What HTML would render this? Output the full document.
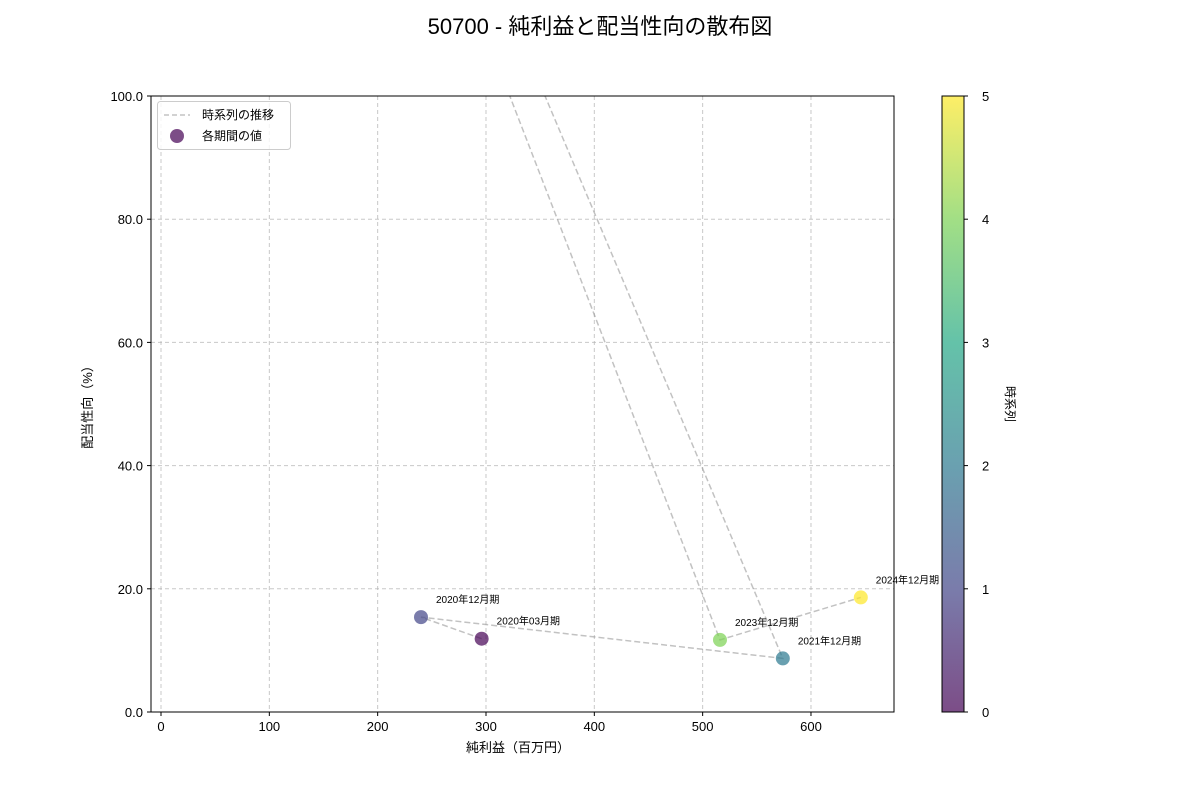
<!DOCTYPE html>
<html><head><meta charset="utf-8"><style>
body{margin:0;background:#fff}
svg{font-family:"Liberation Sans","Noto Sans CJK JP",sans-serif}
</style></head><body>
<svg width="1200" height="800" viewBox="0 0 1200 800" xmlns="http://www.w3.org/2000/svg">
<defs><clipPath id="pc"><rect x="151" y="96" width="743" height="616"/></clipPath>
<linearGradient id="vir" x1="0" y1="1" x2="0" y2="0">
<stop offset="0" stop-color="#440154"/><stop offset="0.2" stop-color="#414487"/><stop offset="0.4" stop-color="#2a788e"/><stop offset="0.6" stop-color="#22a884"/><stop offset="0.8" stop-color="#7ad151"/><stop offset="1" stop-color="#fde725"/></linearGradient></defs>
<text x="600" y="34" text-anchor="middle" font-size="22">50700 - 純利益と配当性向の散布図</text>
<g id="grid"></g>
<g id="marks" clip-path="url(#pc)"></g>
<g id="labels"></g>
<rect x="151" y="96" width="743" height="616" fill="none" stroke="#000" stroke-width="1"/>
<g id="axes"></g>
<text x="518" y="752" text-anchor="middle" font-size="13">純利益（百万円）</text>
<text transform="translate(92,404) rotate(-90)" text-anchor="middle" font-size="13">配当性向（%）</text>
<g>
<rect x="157.5" y="101.5" width="133" height="48" rx="3" fill="#fff" fill-opacity="0.8" stroke="#ccc"/>
<line x1="164" y1="115" x2="190" y2="115" stroke="#aaa" stroke-opacity="0.7" stroke-width="1.5" stroke-dasharray="5,3"/>
<text x="202" y="119" font-size="12">時系列の推移</text>
<circle cx="177" cy="136" r="7" fill="#440154" fill-opacity="0.7"/>
<text x="202" y="140" font-size="12">各期間の値</text>
</g>
<g>
<rect x="942" y="96" width="22" height="616" fill="url(#vir)" opacity="0.7"/>
<rect x="942" y="96" width="22" height="616" fill="none" stroke="#000"/>
<g id="cbticks"></g>
<text transform="translate(1006,404) rotate(90)" text-anchor="middle" font-size="12">時系列</text>
</g>
</svg>
<script>
const periods=["2020年03月期","2020年12月期","2021年12月期","2022年12月期","2023年12月期","2024年12月期"];
const netIncome=[296,240,574,-23,516,646];
const payoutRatio=[11.9,15.4,8.7,257,11.7,18.6];
const xTicks=[0,100,200,300,400,500,600];
const yTicks=[0,20,40,60,80,100];
const cbTicks=[0,1,2,3,4,5];
const colors=["#440154","#414487","#2a788e","#22a884","#7ad151","#fde725"];
const NS="http://www.w3.org/2000/svg";
const X=v=>161+v*1.0833, Y=v=>712-v*6.16, CB=v=>712-v/5*616;
function mk(t,a,p){const e=document.createElementNS(NS,t);for(const k in a)e.setAttribute(k,a[k]);p.appendChild(e);return e;}
const g=document.getElementById('grid'),ax=document.getElementById('axes'),m=document.getElementById('marks'),lb=document.getElementById('labels'),cb=document.getElementById('cbticks');
xTicks.forEach(v=>{
const l=mk('line',{x1:X(v),x2:X(v),y1:96,y2:712,stroke:'#b0b0b0','stroke-opacity':0.7,'stroke-dasharray':'4,3'},g);


mk('line',{x1:X(v),x2:X(v),y1:712,y2:716,stroke:'#000'},ax);
const t=mk('text',{x:X(v),y:731,'text-anchor':'middle','font-size':13},ax);t.textContent=v;


});
yTicks.forEach(v=>{
const l=mk('line',{x1:151,x2:894,y1:Y(v),y2:Y(v),stroke:'#b0b0b0','stroke-opacity':0.7,'stroke-dasharray':'4,3'},g);


mk('line',{x1:147,x2:151,y1:Y(v),y2:Y(v),stroke:'#000'},ax);
const t=mk('text',{x:143,y:Y(v)+5,'text-anchor':'end','font-size':13},ax);t.textContent=v.toFixed(1);


});
const pl=mk('polyline',{points:netIncome.map((v,i)=>X(v)+','+Y(payoutRatio[i])).join(' '),fill:'none',stroke:'#999','stroke-opacity':0.6,'stroke-width':1.5,'stroke-dasharray':'6,3'},m);


netIncome.forEach((v,i)=>{
const c=mk('circle',{cx:X(v),cy:Y(payoutRatio[i]),r:7,fill:colors[i],'fill-opacity':0.7},m);


const t=mk('text',{x:X(v)+15,y:Y(payoutRatio[i])-14,'font-size':10},lb);t.textContent=periods[i];


});
cbTicks.forEach(v=>{
mk('line',{x1:964,x2:968,y1:CB(v),y2:CB(v),stroke:'#000'},cb);
const t=mk('text',{x:982,y:CB(v)+5,'font-size':13},cb);t.textContent=v;


});
</script>
</body></html>
